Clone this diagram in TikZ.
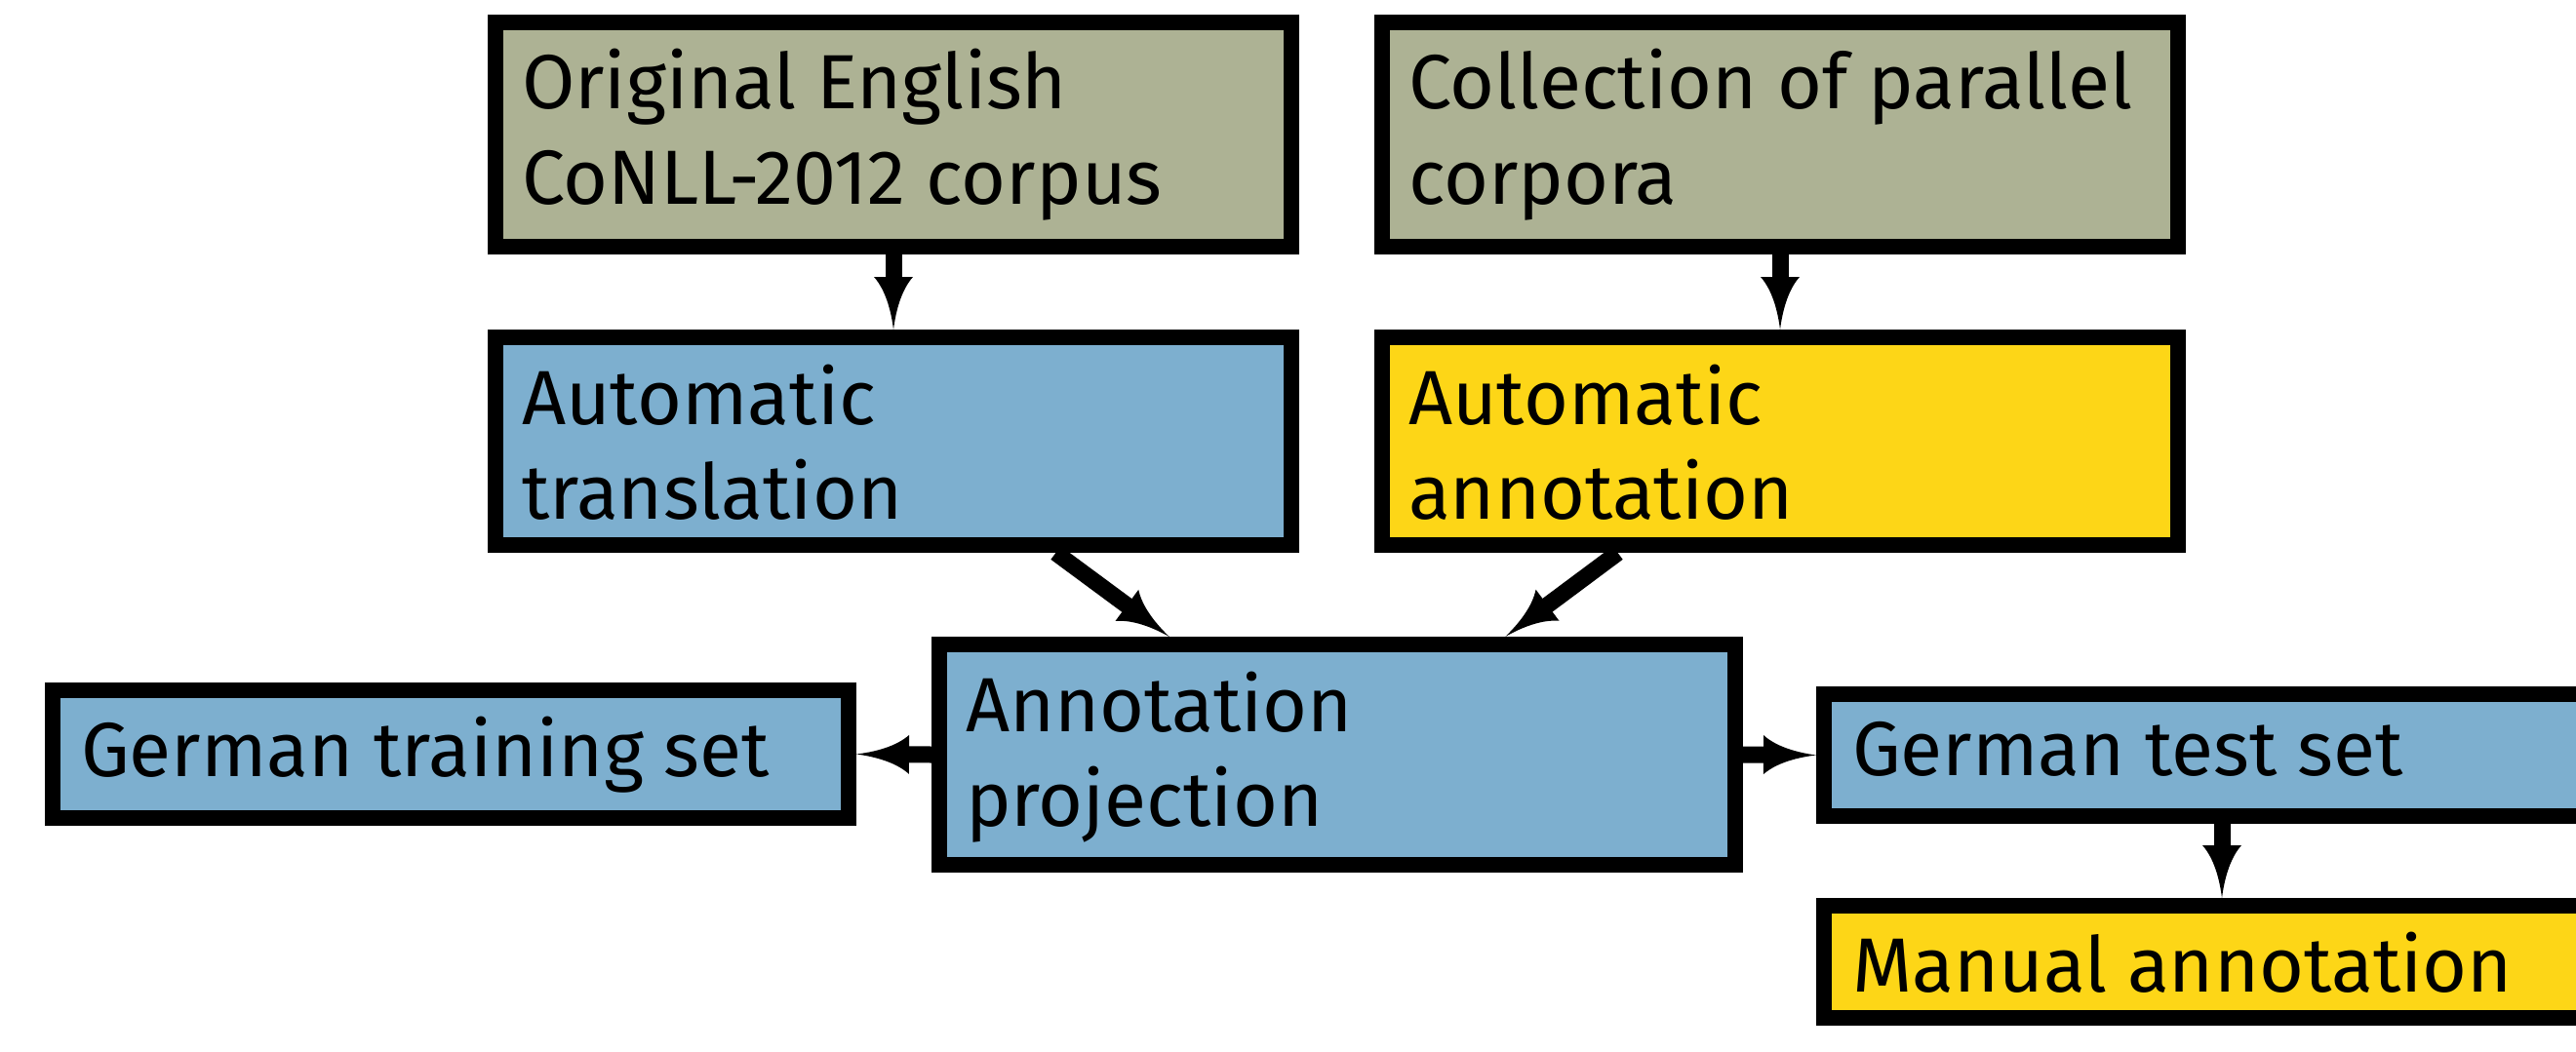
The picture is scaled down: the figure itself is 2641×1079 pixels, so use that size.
\documentclass[tikz,border=0pt]{standalone}
\usepackage{fontspec}
\setmainfont{Fira Sans}
\usetikzlibrary{arrows.meta,calc}
\definecolor{olivebox}{HTML}{ADB294}
\definecolor{bluebox}{HTML}{7DAFCF}
\definecolor{yellowbox}{HTML}{FDD617}
\pgfdeclarearrow{
  name = Dart,
  parameters = {\the\pgfarrowlength,\the\pgfarrowwidth},
  setup code = {
    \pgfarrowssettipend{0pt}
    \pgfarrowssetlineend{-0.85\pgfarrowlength}
    \pgfarrowssetbackend{-\pgfarrowlength}
    \pgfarrowssavethe\pgfarrowlength
    \pgfarrowssavethe\pgfarrowwidth
  },
  drawing code = {
    \pgfpathmoveto{\pgfqpoint{0pt}{0pt}}
    \pgfpathcurveto{\pgfqpoint{-0.35\pgfarrowlength}{0.06\pgfarrowwidth}}{\pgfqpoint{-0.75\pgfarrowlength}{0.2\pgfarrowwidth}}{\pgfqpoint{-\pgfarrowlength}{0.5\pgfarrowwidth}}
    \pgfpathlineto{\pgfqpoint{-\pgfarrowlength}{-0.5\pgfarrowwidth}}
    \pgfpathcurveto{\pgfqpoint{-0.75\pgfarrowlength}{-0.2\pgfarrowwidth}}{\pgfqpoint{-0.35\pgfarrowlength}{-0.06\pgfarrowwidth}}{\pgfqpoint{0pt}{0pt}}
    \pgfpathclose
    \pgfusepathqfill
  },
  defaults = {length = 10pt, width = 8pt}
}
\tikzset{
  box/.style={rectangle, draw=black, line width=3.2pt, inner sep=0pt,
    minimum width=163.2pt, anchor=north west},
  txt/.style={anchor=base west, inner sep=0pt,
    font=\fontsize{15.75pt}{19pt}\selectfont},
  arr/.style={line width=3.4pt, -{Dart[length=10.8pt,width=8pt]}}
}
\begin{document}
\begin{tikzpicture}[x=0.2pt,y=-0.2pt]
\useasboundingbox (0,0) rectangle (2641,1079);
\clip (0,0) rectangle (2641,1079);
% boxes
\node[box, fill=olivebox, minimum height=46pt] (b1) at (500,15) {};
\node[box, fill=bluebox, minimum height=42.6pt] (b2) at (500,338) {};
\node[box, fill=olivebox, minimum height=46pt] (b3) at (1409,15) {};
\node[box, fill=yellowbox, minimum height=42.6pt] (b4) at (1409,338) {};
\node[box, fill=bluebox, minimum height=45.2pt] (p) at (955,653) {};
\node[box, fill=bluebox, minimum height=26.2pt] (tr) at (46,700) {};
\node[box, fill=bluebox, minimum height=25pt] (te) at (1862,704) {};
\node[box, fill=yellowbox, minimum height=23pt] (m) at (1862,921) {};
% texts
\node[txt] (t1a) at ([shift={(34,97)}]b1.north west) {Original English};
\node[txt] (t1b) at ([shift={(34,194)}]b1.north west) {CoNLL-2012 corpus};
\node[txt] (t2a) at ([shift={(34,97)}]b2.north west) {Automatic};
\node[txt] (t2b) at ([shift={(34,194)}]b2.north west) {translation};
\node[txt] (t3a) at ([shift={(34,97)}]b3.north west) {Collection of parallel};
\node[txt] (t3b) at ([shift={(34,194)}]b3.north west) {corpora};
\node[txt] (t4a) at ([shift={(34,97)}]b4.north west) {Automatic};
\node[txt] (t4b) at ([shift={(34,194)}]b4.north west) {annotation};
\node[txt] (tpa) at ([shift={(34,97)}]p.north west) {Annotation};
\node[txt] (tpb) at ([shift={(34,194)}]p.north west) {projection};
\node[txt] (ttr) at ([shift={(36,96)}]tr.north west) {German training set};
\node[txt] (tte) at ([shift={(36,91)}]te.north west) {German test set};
\node[txt] (tm) at ([shift={(36,96)}]m.north west) {Manual annotation};
% arrows
\draw[arr] (b1.south) -- (b2.north);
\draw[arr] (b3.south) -- (b4.north);
\draw[arr] ($(b2.south west)!0.7!(b2.south east)$) -- ($(p.north west)!0.293!(p.north east)$);
\draw[arr] ($(b4.south west)!0.3!(b4.south east)$) -- ($(p.north west)!0.707!(p.north east)$);
\draw[arr] (p.west) -- (tr.east);
\draw[arr] (p.east) -- (te.west);
\draw[arr] (te.south) -- (m.north);
\end{tikzpicture}
\end{document}
